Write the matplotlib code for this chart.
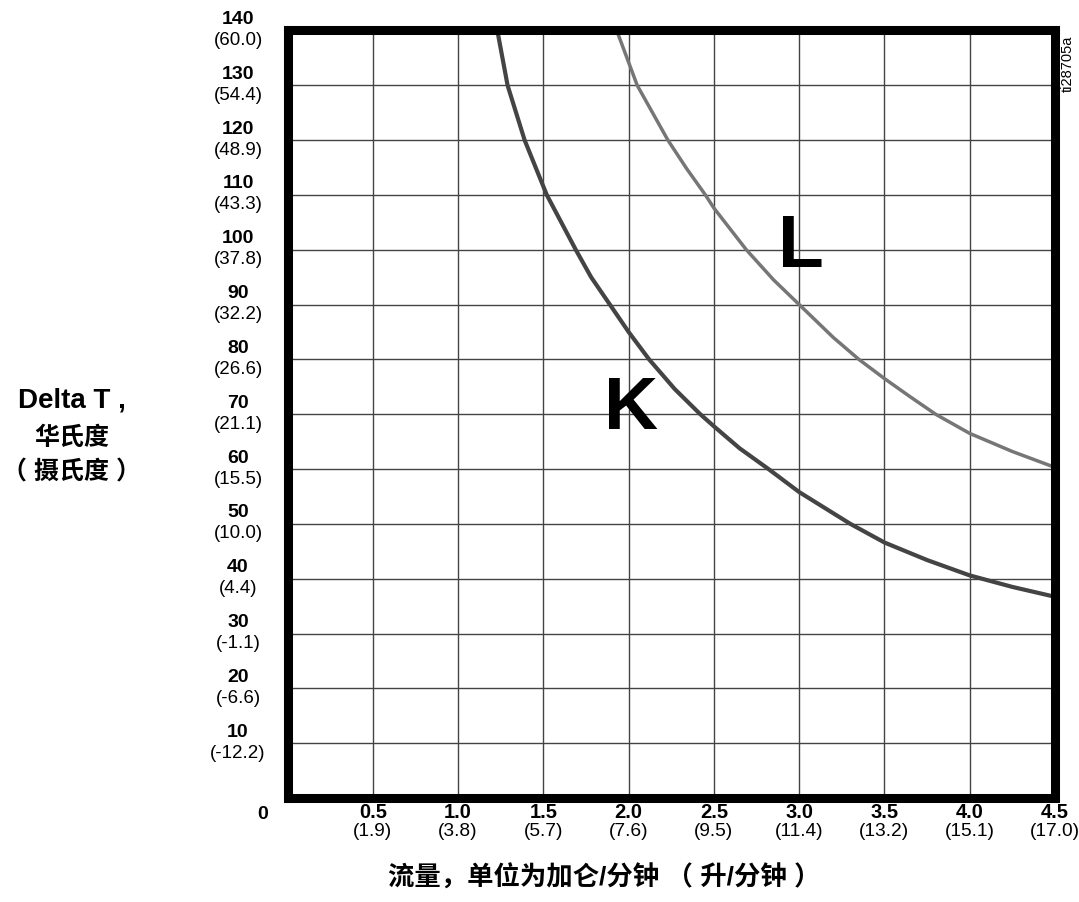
import matplotlib as mpl
mpl.use('Agg')
import matplotlib.pyplot as plt
from matplotlib.transforms import blended_transform_factory, offset_copy

plt.rcParams['font.family'] = ['Liberation Sans', 'Noto Sans CJK SC', 'DejaVu Sans']

# flow (gpm) vs delta T (F)
k_flow = [1.23, 1.29, 1.39, 1.52, 1.69, 1.78, 1.89, 2.0, 2.12, 2.27, 2.42, 2.5, 2.65, 2.82,
          3.0, 3.3, 3.5, 3.75, 4.0, 4.25, 4.5]
k_dt = [140, 130, 120, 110, 100, 95, 90, 85, 80, 74.6, 70, 67.8, 63.8, 60,
        55.8, 50, 46.6, 43.4, 40.6, 38.5, 36.7]
l_flow = [1.93, 2.05, 2.23, 2.34, 2.45, 2.5, 2.69, 2.85, 3.0, 3.2, 3.35, 3.5, 3.65, 3.8,
          4.0, 4.25, 4.5]
l_dt = [140, 130, 120, 114.8, 110, 107.6, 100, 94.5, 90, 84, 80, 76.5, 73.2, 70,
        66.5, 63.2, 60.3]

x_ticks = [0.5, 1.0, 1.5, 2.0, 2.5, 3.0, 3.5, 4.0, 4.5]
x_bold = ["0.5", "1.0", "1.5", "2.0", "2.5", "3.0", "3.5", "4.0", "4.5"]
x_metric = ["(1.9)", "(3.8)", "(5.7)", "(7.6)", "(9.5)", "(11.4)", "(13.2)", "(15.1)", "(17.0)"]
y_ticks = [140, 130, 120, 110, 100, 90, 80, 70, 60, 50, 40, 30, 20, 10]
y_metric = ["(60.0)", "(54.4)", "(48.9)", "(43.3)", "(37.8)", "(32.2)", "(26.6)",
            "(21.1)", "(15.5)", "(10.0)", "(4.4)", "(-1.1)", "(-6.6)", "(-12.2)"]

fig = plt.figure(figsize=(10.79, 9.02), dpi=100)
ax = fig.add_axes([0.2665, 0.1153, 0.7113, 0.8509])
ax.set_xlim(0, 4.5)
ax.set_ylim(0, 140)

# grid
for xv in x_ticks[:-1]:
    ax.axvline(xv, color='#444444', lw=1.0, zorder=1)
for yv in y_ticks[1:]:
    ax.axhline(yv, color='#444444', lw=1.0, zorder=1)

ax.plot(k_flow, k_dt, color='#444444', lw=3.0, solid_capstyle='butt', solid_joinstyle='round', zorder=3)
ax.plot(l_flow, l_dt, color='#767676', lw=2.5, solid_capstyle='butt', solid_joinstyle='round', zorder=3)

ax.text(2.013, 70.8, "K", fontsize=54, fontweight='bold', ha='center', va='center', zorder=4)
ax.text(3.01, 100.4, "L", fontsize=54, fontweight='bold', ha='center', va='center', zorder=4)

for sp in ax.spines.values():
    sp.set_linewidth(6.5)
    sp.set_color('black')
    sp.set_zorder(5)
ax.set_xticks([])
ax.set_yticks([])

# tick labels drawn as text
ty = blended_transform_factory(ax.transAxes, ax.transData)
tx = blended_transform_factory(ax.transData, ax.transAxes)
ylab_x = -0.0645
for yv, m in zip(y_ticks, y_metric):
    ax.text(ylab_x, yv, str(yv), fontsize=14, fontweight='bold', ha='center', va='center',
            transform=offset_copy(ty, fig, y=11, units='dots'))
    ax.text(ylab_x, yv, m, fontsize=13.5, ha='center', va='center',
            transform=offset_copy(ty, fig, y=-10, units='dots'))
ax.text(-0.033, 0, "0", fontsize=14, fontweight='bold', ha='center', va='center',
        transform=offset_copy(ty, fig, y=-17, units='dots'))
for xv, b, m in zip(x_ticks, x_bold, x_metric):
    ax.text(xv, 0, b, fontsize=14.5, fontweight='bold', ha='center', va='center',
            transform=offset_copy(tx, fig, y=-15, units='dots'))
    ax.text(xv, 0, m, fontsize=13.8, ha='center', va='center',
            transform=offset_copy(tx, fig, y=-34, units='dots'))

fig.text(72 / 1079, 1 - 401 / 902, "Delta T ,", fontsize=20, fontweight='bold', ha='center', va='center')
fig.text(72 / 1079, 1 - 438 / 902, "华氏度", fontsize=18, fontweight='bold', ha='center', va='center')
fig.text(72 / 1079, 1 - 472 / 902, "（ 摄氏度 ）", fontsize=18, fontweight='bold', ha='center', va='center')

fig.text(604 / 1079, 1 - 878 / 902, "流量，单位为加仑/分钟 （ 升/分钟 ）", fontsize=19,
         fontweight='bold', ha='center', va='center')

fig.text(1068 / 1079, 1 - 64 / 902, "ti28705a", fontsize=10.5, rotation=90, ha='center', va='center')

fig.savefig("out.png", dpi=100)
